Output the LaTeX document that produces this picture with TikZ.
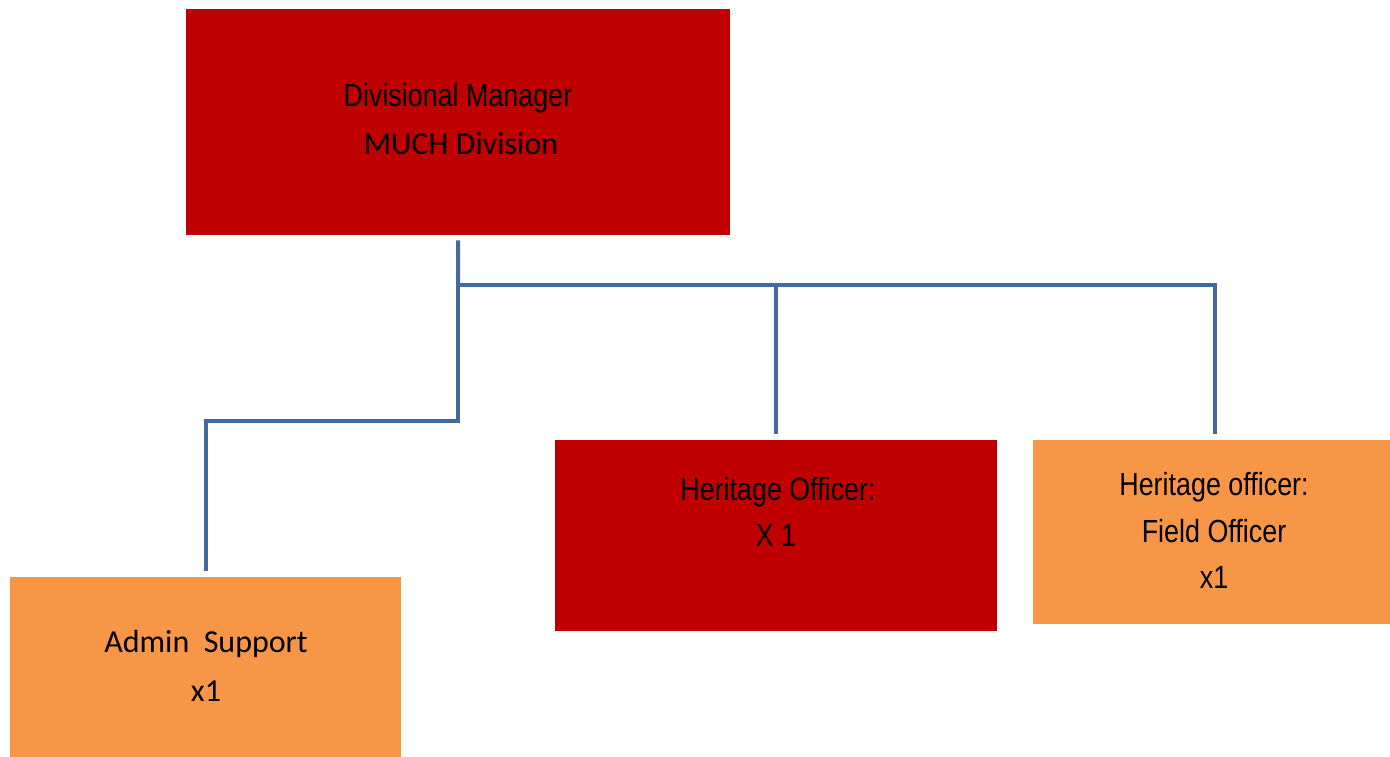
\documentclass[tikz,border=0pt]{standalone}
\usepackage{fontspec}
\setmainfont{Liberation Sans}
\newfontfamily\narrowfont[FakeStretch=0.84]{Liberation Sans}
\newfontfamily\calibfont{Carlito}
\definecolor{darkred}{RGB}{192,0,0}
\definecolor{orangebox}{RGB}{247,150,70}
\definecolor{connblue}{RGB}{68,105,155}
\tikzset{
  boxstyle/.style={rectangle, inner sep=0pt, draw=none, anchor=north west},
  redbox/.style={boxstyle, fill=darkred},
  orangestyle/.style={boxstyle, fill=orangebox},
  conn/.style={draw=connblue, line width=4pt, line cap=butt, line join=miter},
  nartext/.style={anchor=base, inner sep=0pt, font=\narrowfont\fontsize{32}{38}\selectfont},
  caltext/.style={anchor=base, inner sep=0pt, font=\calibfont\fontsize{32}{38}\selectfont}
}
\begin{document}
\begin{tikzpicture}[x=1pt,y=-1pt]
\useasboundingbox (0,0) rectangle (1390,757);
% boxes
\node[redbox, minimum width=544pt, minimum height=226pt] (top) at (186,9) {};
\node[orangestyle, minimum width=391pt, minimum height=180pt] (adm) at (10,577) {};
\node[redbox, minimum width=442pt, minimum height=191pt] (ho) at (555,440) {};
\node[orangestyle, minimum width=357pt, minimum height=184pt] (fo) at (1033,440) {};
% texts
\node[nartext] (t1) at (458,107) {Divisional Manager};
\node[caltext] (t2) at (461,154) {MUCH Division};
\node[caltext] (a1) at (206,652) {Admin\ \ Support};
\node[caltext] (a2) at (206,701) {x1};
\node[nartext] (h1) at (778,500) {Heritage Officer:};
\node[nartext] (h2) at (776,546) {X 1};
\node[nartext] (f1) at (1214,495) {Heritage officer:};
\node[nartext] (f2) at (1214,542) {Field Officer};
\node[nartext] (f3) at (1214,588) {x1};
% connectors
\coordinate (j) at (458,285);
\coordinate (k) at (458,421);
\draw[conn] ([yshift=-5pt]top.south) -- (j);
\draw[conn] (j) -- (k) -| ([yshift=6pt]adm.north);
\draw[conn] (j) -| ([yshift=6pt]ho.north);
\draw[conn] (j) -| ([xshift=3.5pt,yshift=6pt]fo.north);
\end{tikzpicture}
\end{document}
